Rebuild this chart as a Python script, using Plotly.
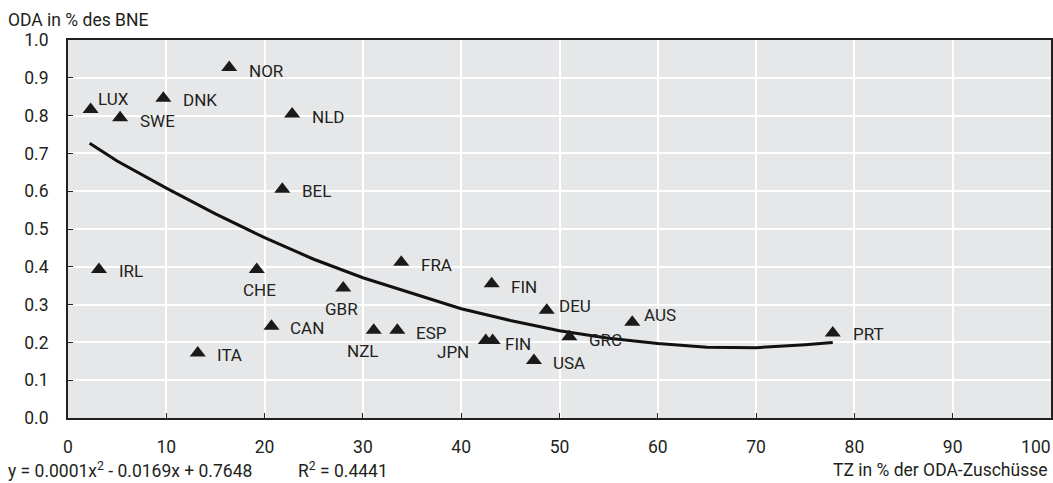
import plotly.graph_objects as go

# Data: x = TZ in % der ODA-Zuschüsse, y = ODA in % des BNE
countries = ["LUX", "SWE", "DNK", "NOR", "NLD", "BEL", "IRL", "CHE", "CAN", "ITA", "GBR",
             "FRA", "NZL", "ESP", "JPN", "FIN", "FIN", "DEU", "USA", "GRC", "AUS", "PRT"]
tz_share = [2.3, 5.3, 9.7, 16.4, 22.8, 21.8, 3.15, 19.2, 20.7, 13.2, 28.0,
            33.9, 31.1, 33.5, 42.5, 43.2, 43.1, 48.7, 47.4, 51.0, 57.4, 77.8]
oda_gni = [0.816, 0.794, 0.846, 0.927, 0.804, 0.605, 0.393, 0.393, 0.243, 0.172, 0.344,
           0.412, 0.232, 0.232, 0.205, 0.205, 0.355, 0.285, 0.152, 0.215, 0.253, 0.225]

# Trend line
trend_x = [2.2, 5, 10, 15, 20, 25, 30, 35, 40, 45, 50, 55, 60, 65, 70, 75, 77.8]
trend_y = [0.727, 0.68, 0.608, 0.54, 0.477, 0.42, 0.371, 0.33, 0.289, 0.258, 0.231,
           0.211, 0.197, 0.187, 0.186, 0.194, 0.200]

x_ticks = [0, 10, 20, 30, 40, 50, 60, 70, 80, 90, 100]
x_tick_labels = ["0", "10", "20", "30", "40", "50", "60", "70", "80", "90", "100"]
y_ticks = [0.0, 0.1, 0.2, 0.3, 0.4, 0.5, 0.6, 0.7, 0.8, 0.9, 1.0]

# label placement (pixel offsets, anchor)
label_pos = [
    (5, 11, "left"), (18, -3, "left"), (18, -2, "left"), (18, -3, "left"), (18, -3, "left"),
    (18, -2, "left"), (18, -2, "left"), (3, -21, "center"), (17, -2, "left"), (17, -2, "left"),
    (-2, -21, "center"), (18, -3, "left"), (-11, -21, "center"), (17, -3, "left"),
    (-15, -11, "right"), (10, -3, "left"), (17, -3, "left"), (10, 4, "left"),
    (17, -2, "left"), (18, -3, "left"), (10, 7, "left"), (18, -1, "left"),
]

FONT = "Roboto, Liberation Sans, sans-serif"
TXT = "#231f20"

fig = go.Figure()
fig.add_trace(go.Scatter(x=trend_x, y=trend_y, mode="lines",
                         line=dict(color="#111111", width=3), hoverinfo="skip",
                         showlegend=False))
fig.add_trace(go.Scatter(x=tz_share, y=oda_gni, mode="markers",
                         marker=dict(symbol="triangle-up", size=14, color="#1a1a1a"),
                         showlegend=False))

annotations = []
for name, xv, yv, (dx, dy, anc) in zip(countries, tz_share, oda_gni, label_pos):
    annotations.append(dict(x=xv, y=yv, xref="x", yref="y", text=name, showarrow=False,
                            xanchor=anc, yanchor="middle", xshift=dx, yshift=dy,
                            font=dict(family=FONT, size=17, color=TXT)))

annotations += [
    dict(x=-0.063, y=1.053, xref="paper", yref="paper", xanchor="left", yanchor="middle",
         text="ODA in % des BNE", showarrow=False, font=dict(family=FONT, size=17.5, color=TXT)),
    dict(x=0.999, y=-0.137, xref="paper", yref="paper", xanchor="right", yanchor="middle",
         text="TZ in % der ODA-Zuschüsse", showarrow=False, font=dict(family=FONT, size=17.5, color=TXT)),
    dict(x=-0.063, y=-0.137, xref="paper", yref="paper", xanchor="left", yanchor="middle",
         text="y = 0.0001x<sup>2</sup> - 0.0169x + 0.7648", showarrow=False,
         font=dict(family=FONT, size=17.5, color=TXT)),
    dict(x=0.2317, y=-0.137, xref="paper", yref="paper", xanchor="left", yanchor="middle",
         text="R<sup>2</sup> = 0.4441", showarrow=False,
         font=dict(family=FONT, size=17.5, color=TXT)),
]

# pad the last tick label so it stays inside the picture
tick_text = [t + ("\u00a0" * 7 if t == "100" else "") for t in x_tick_labels]

fig.update_layout(
    width=1053, height=483,
    margin=dict(l=68, r=2, t=40, b=65),
    paper_bgcolor="white", plot_bgcolor="#e6e7e8",
    font=dict(family=FONT, size=17.5, color=TXT),
    annotations=annotations,
    xaxis=dict(range=[0, 100], tickvals=x_ticks, ticktext=tick_text,
               showgrid=True, gridcolor="white", gridwidth=2, zeroline=False,
               showline=True, linecolor="#231f20", linewidth=2, mirror=True,
               ticks="inside", ticklen=5, tickcolor="#231f20", ticklabelstandoff=12,
               ticklabeloverflow="allow", automargin=False),
    yaxis=dict(range=[0, 1.0], tickvals=y_ticks, ticktext=[f"{v:.1f}" for v in y_ticks],
               showgrid=True, gridcolor="white", gridwidth=2, zeroline=False,
               showline=True, linecolor="#231f20", linewidth=2, mirror=True,
               ticks="inside", ticklen=5, tickcolor="#231f20", ticklabelstandoff=14,
               ticklabeloverflow="allow", automargin=False),
)

fig.write_html("out.html", config={"displayModeBar": False},
               post_script="document.body.style.margin='0';document.body.style.padding='0';")
